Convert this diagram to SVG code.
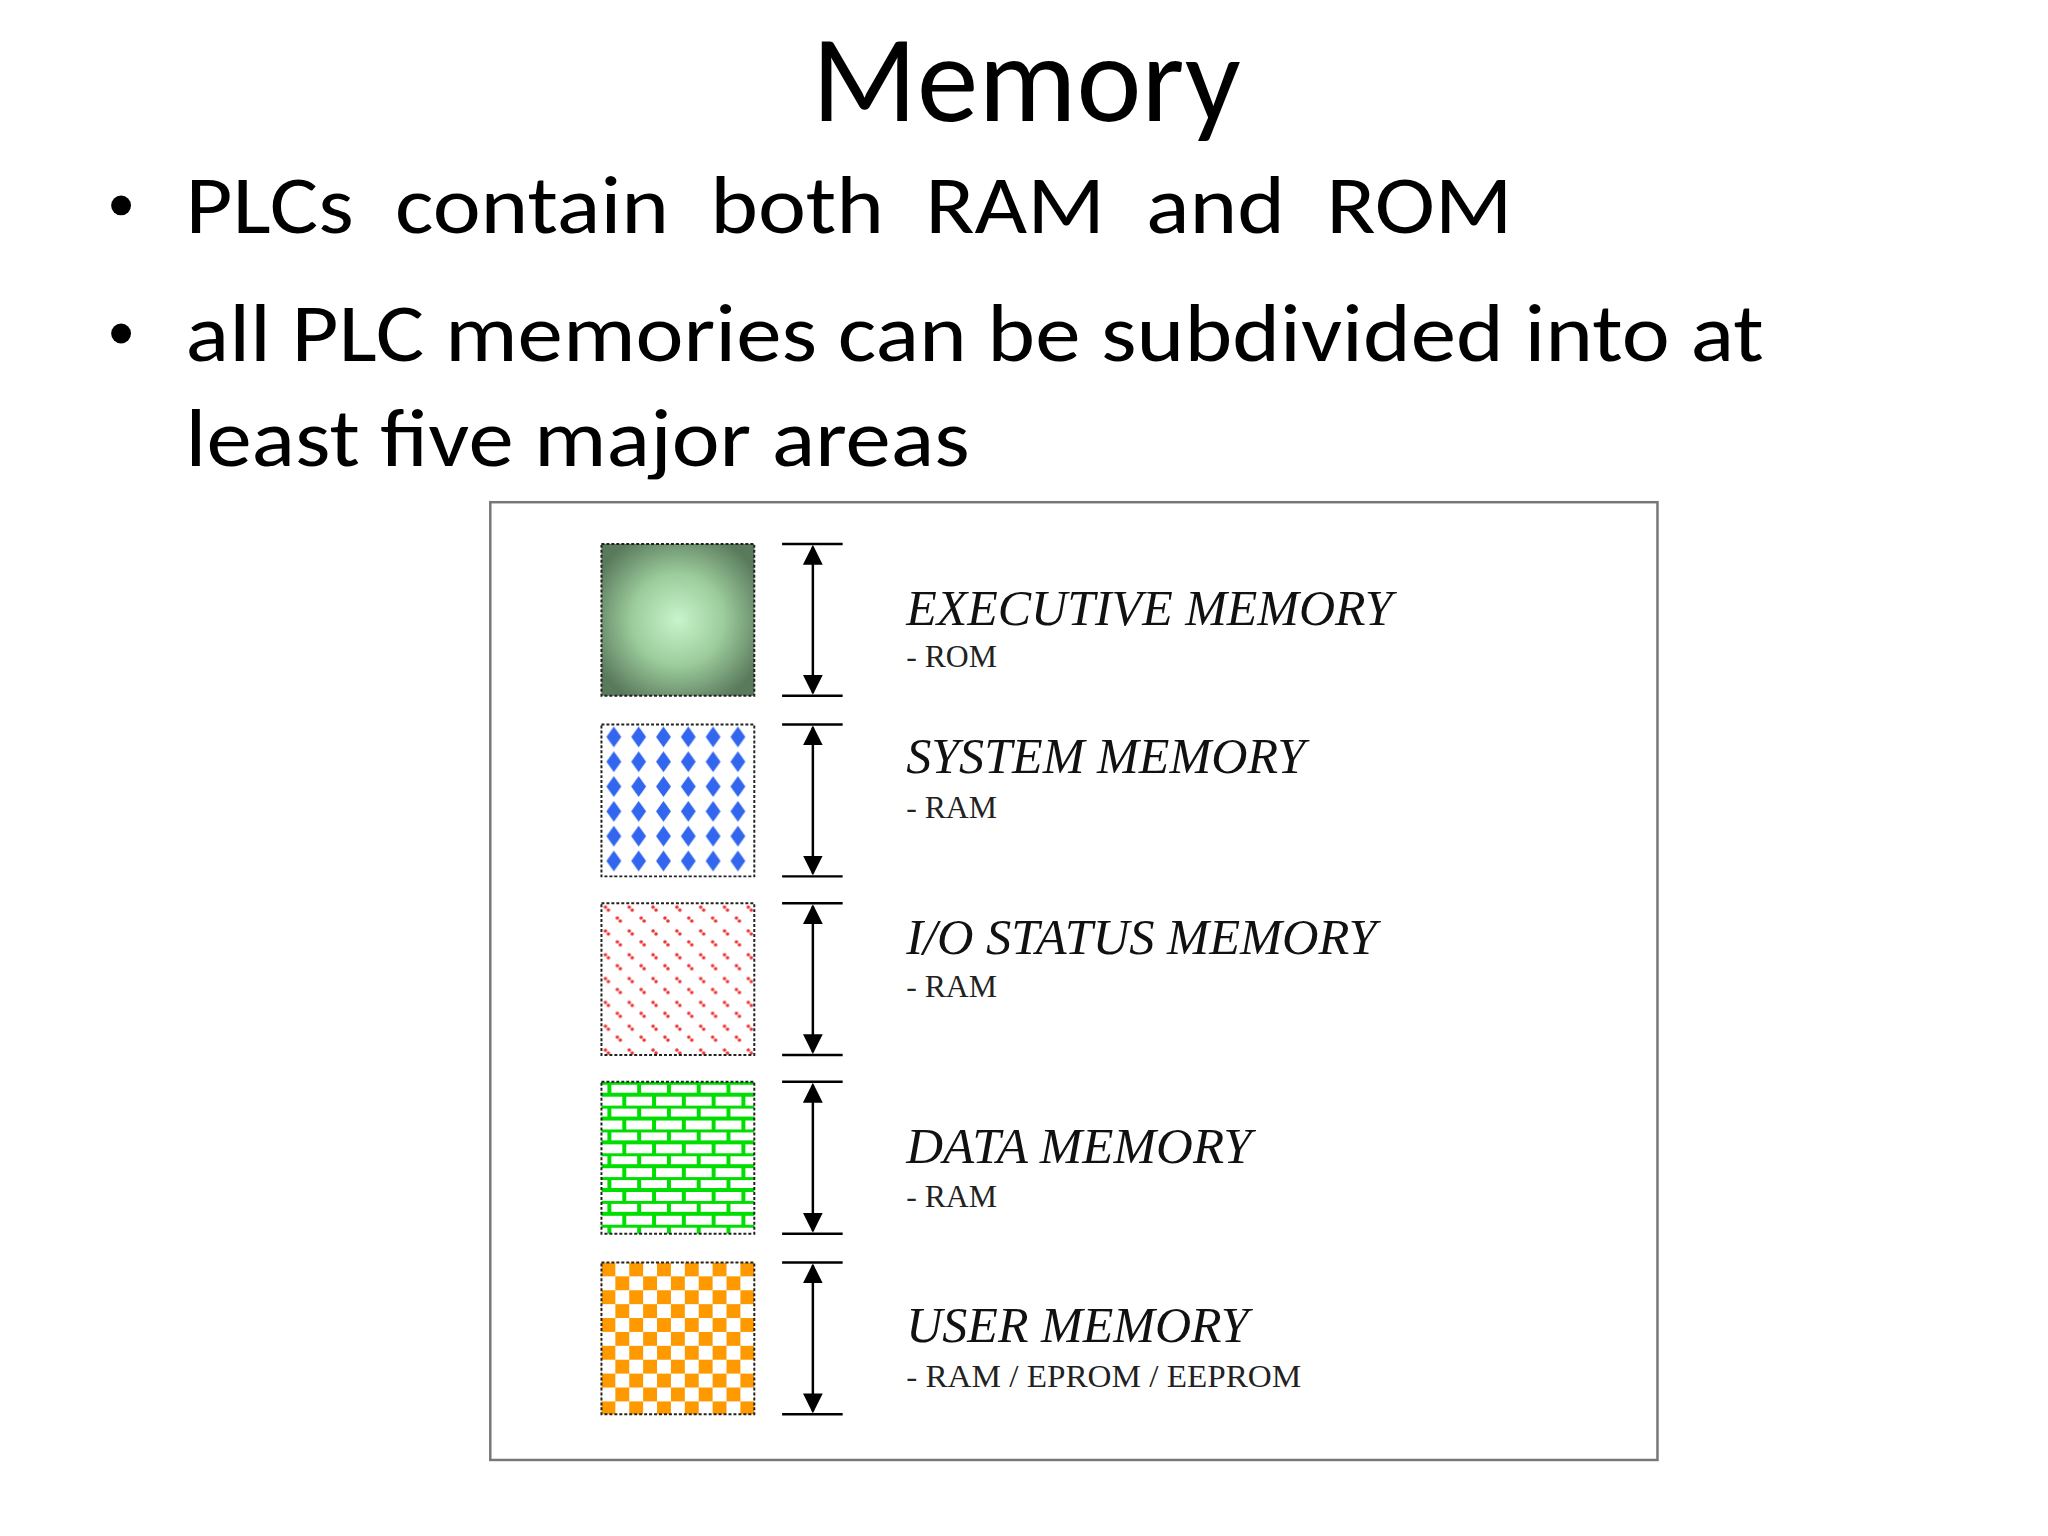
<svg xmlns="http://www.w3.org/2000/svg" width="2048" height="1536" viewBox="0 0 2048 1536">
<style>
.h{font-family:Carlito,"Open Sans","Liberation Sans",sans-serif;fill:#000}
.t{font-family:"Liberation Serif",serif;font-style:italic;font-size:52px;fill:#111}
.s{font-family:"Liberation Serif",serif;font-size:32px;fill:#222}
.ar{stroke:#000;stroke-width:2.5;fill:none}
.box{stroke:#222;stroke-width:2;stroke-dasharray:3 2}
</style>
<defs>
<marker id="a" viewBox="0 0 10 10" refX="9" refY="5" markerWidth="8" markerHeight="8" orient="auto-start-reverse"><path d="M0,0L10,5L0,10z" fill="#000"/></marker>
<radialGradient id="g" cx="0.5" cy="0.5" r="0.6"><stop offset="0" stop-color="#c8f5cc"/><stop offset="0.5" stop-color="#9ccc9c"/><stop offset="1" stop-color="#5a7a5c"/></radialGradient>
<pattern id="pb" width="25" height="25" patternUnits="userSpaceOnUse" x="606" y="730"><rect width="25" height="25" fill="#fff"/><path d="M12.5,2L20,12.5L12.5,23L5,12.5z" fill="#3366ee"/></pattern>
<pattern id="pr" width="24" height="24" patternUnits="userSpaceOnUse" x="606" y="910"><rect width="24" height="24" fill="#fff"/><circle cx="4" cy="4" r="1.8" fill="#e33"/><circle cx="7" cy="7" r="1.8" fill="#e33"/><circle cx="16" cy="15" r="1.8" fill="#e33"/><circle cx="19" cy="18" r="1.8" fill="#e33"/></pattern>
<pattern id="pg" width="30" height="24" patternUnits="userSpaceOnUse" x="606" y="1090"><rect width="30" height="24" fill="#fff"/><path d="M0,1H30M0,13H30M8,1V13M23,13V24" stroke="#00dd00" stroke-width="4"/></pattern>
<pattern id="po" width="28" height="28" patternUnits="userSpaceOnUse" x="606" y="1272"><rect width="28" height="28" fill="#fff"/><rect width="14" height="14" fill="#ff9900"/><rect x="14" y="14" width="14" height="14" fill="#ff9900"/></pattern>
</defs>
<rect width="2048" height="1536" fill="#fff"/>
<g transform="scale(0.9925)">
<text class="h" x="1034" y="122" font-size="124" text-anchor="middle">Memory</text>
<g class="h" font-size="82">
<circle cx="122" cy="207" r="10" fill="#000"/>
<text x="187" y="235" textLength="1337" lengthAdjust="spacingAndGlyphs" xml:space="preserve">PLCs  contain  both  RAM  and  ROM</text>
<circle cx="122" cy="336" r="10" fill="#000"/>
<text x="187" y="364" textLength="1590" lengthAdjust="spacingAndGlyphs">all PLC memories can be subdivided into at</text>
<text x="187" y="470" textLength="790" lengthAdjust="spacingAndGlyphs">least five major areas</text>
</g>
<rect x="0" y="483" width="2048" height="22" fill="#fff"/>
<rect x="494" y="506" width="1176" height="965" fill="#fff" stroke="#777" stroke-width="2.5"/>
<g id="exec"><rect class="box" x="606" y="548" width="154" height="153" fill="url(#g)"/>
<text class="t" x="913" y="630" textLength="490" lengthAdjust="spacingAndGlyphs">EXECUTIVE MEMORY</text><text class="s" x="913" y="672">- ROM</text></g>
<g id="system"><rect class="box" x="606" y="730" width="154" height="153" fill="url(#pb)"/>
<text class="t" x="913" y="779" textLength="402" lengthAdjust="spacingAndGlyphs">SYSTEM MEMORY</text><text class="s" x="913" y="824">- RAM</text></g>
<g id="io"><rect class="box" x="606" y="910" width="154" height="153" fill="url(#pr)"/>
<text class="t" x="913" y="961" textLength="474" lengthAdjust="spacingAndGlyphs">I/O STATUS MEMORY</text><text class="s" x="913" y="1005">- RAM</text></g>
<g id="data"><rect class="box" x="606" y="1090" width="154" height="153" fill="url(#pg)"/>
<text class="t" x="913" y="1172" textLength="348" lengthAdjust="spacingAndGlyphs">DATA MEMORY</text><text class="s" x="913" y="1216">- RAM</text></g>
<g id="user"><rect class="box" x="606" y="1272" width="154" height="153" fill="url(#po)"/>
<text class="t" x="913" y="1352" textLength="345" lengthAdjust="spacingAndGlyphs">USER MEMORY</text><text class="s" x="913" y="1397" textLength="398" lengthAdjust="spacingAndGlyphs">- RAM / EPROM / EEPROM</text></g>
<g id="connectors">
<path class="ar" d="M788,548H849M788,701H849M788,730H849M788,883H849M788,910H849M788,1063H849M788,1090H849M788,1243H849M788,1272H849M788,1425H849"/>
<path class="ar" d="M819,551V698" marker-start="url(#a)" marker-end="url(#a)"/>
<path class="ar" d="M819,733V880" marker-start="url(#a)" marker-end="url(#a)"/>
<path class="ar" d="M819,913V1060" marker-start="url(#a)" marker-end="url(#a)"/>
<path class="ar" d="M819,1093V1240" marker-start="url(#a)" marker-end="url(#a)"/>
<path class="ar" d="M819,1275V1422" marker-start="url(#a)" marker-end="url(#a)"/>
</g>
</g>
</svg>
